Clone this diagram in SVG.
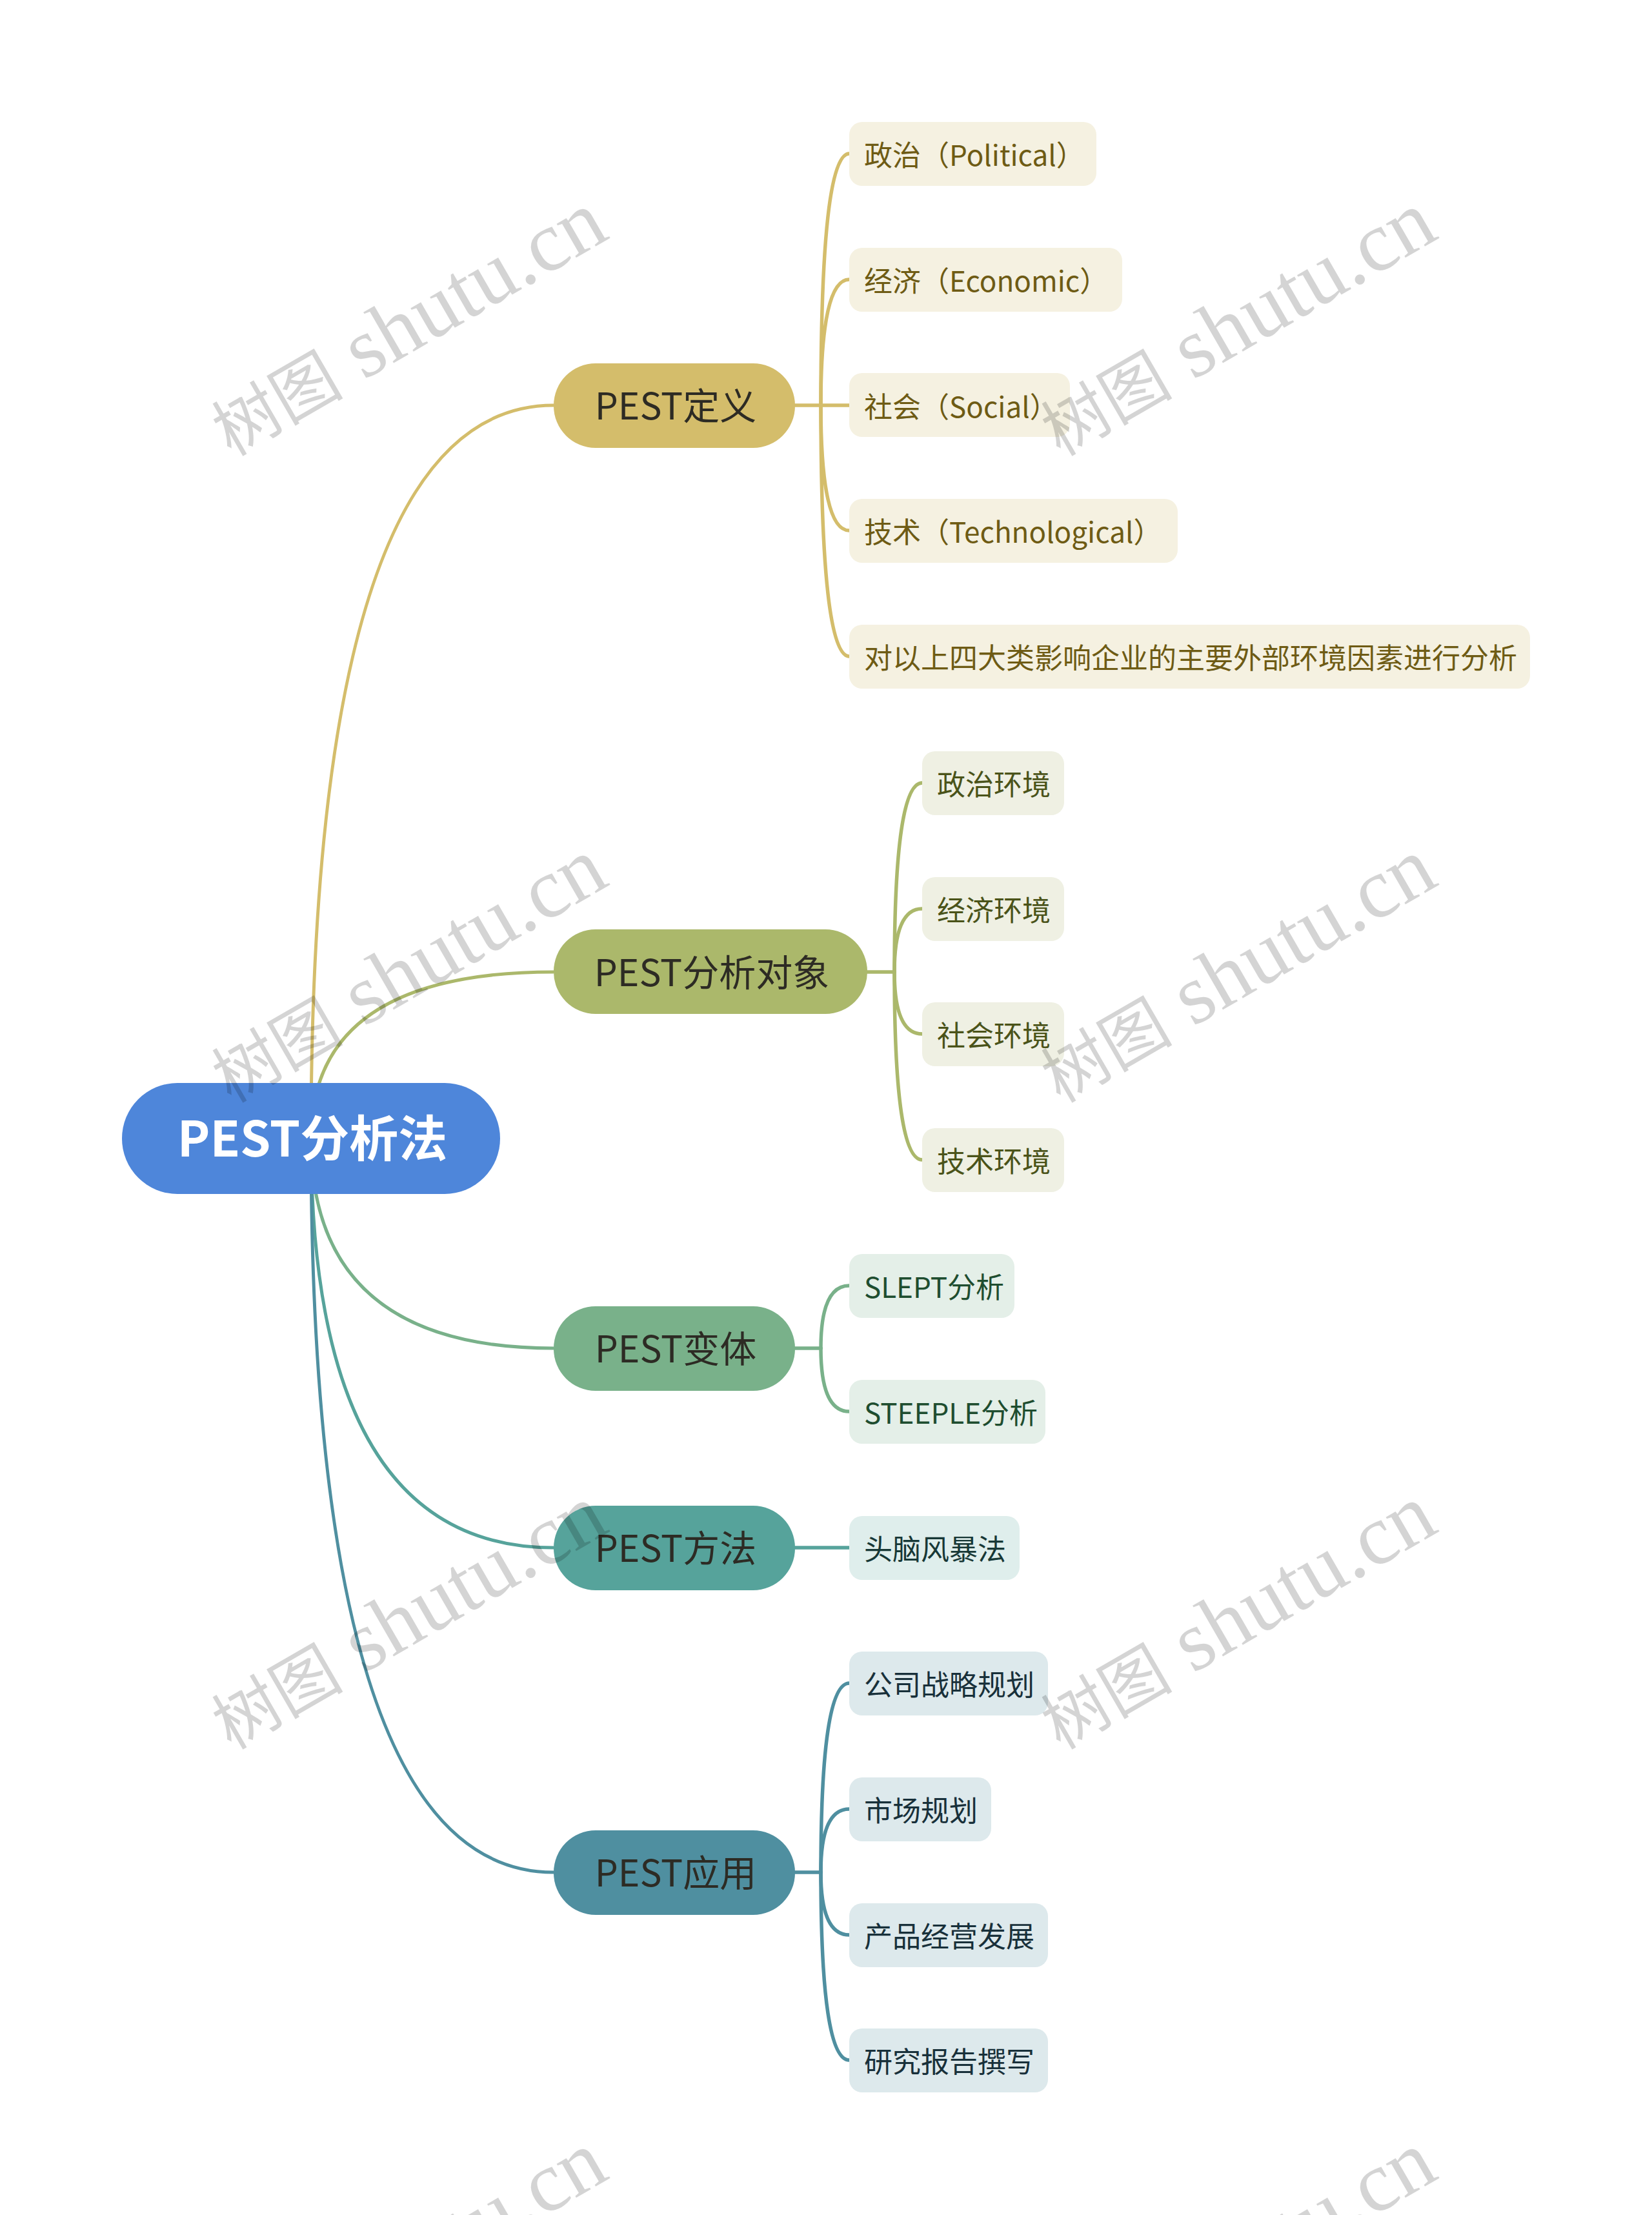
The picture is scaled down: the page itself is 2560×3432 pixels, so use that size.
<svg xmlns="http://www.w3.org/2000/svg" width="2560" height="3432" viewBox="0 0 2560 3432">
<style>
  text { font-family: "Noto Sans CJK SC", "Noto Sans", sans-serif; }
  .root-t { fill: #ffffff; font-size: 76px; font-weight: bold; }
  .l1-t { fill: #2d2b24; font-size: 57px; }
  .l2-t { font-size: 44px; }
  .c { fill: none; stroke-width: 5.5; stroke-linecap: round; }
  .m { fill: none; stroke-width: 5; }
  .gold { stroke: #D4BD6B; } .olive { stroke: #ABB86B; } .green { stroke: #79B18A; } .teal { stroke: #56A39B; } .blue { stroke: #4F8FA0; }
  .b-gold { fill: #F5F1E1; } .t-gold { fill: #6E5B14; }
  .b-olive { fill: #EFF0E3; } .t-olive { fill: #4A5319; }
  .b-green { fill: #E4EFE8; } .t-green { fill: #1E4D2F; }
  .b-teal { fill: #DFEEEC; } .t-teal { fill: #173836; }
  .b-blue { fill: #DDE9EC; } .t-blue { fill: #18303A; }
  .wm { font-family: "Liberation Serif", "Noto Sans CJK SC", serif; font-size: 132px; fill: #000; fill-opacity: 0.17; }
  .wm .cjk { font-size: 102px; }
</style>
<rect width="2560" height="3432" fill="#ffffff"/>

<g id="connectors">
  <path class="m gold" d="M482 1764 Q482 628 858 628"/>
  <path class="m olive" d="M482 1764 Q482 1506 858 1506"/>
  <path class="m green" d="M482 1764 Q482 2089 858 2089"/>
  <path class="m teal" d="M482 1764 Q482 2398 858 2398"/>
  <path class="m blue" d="M482 1764 Q482 2901 858 2901"/>
  <path class="c gold" d="M1232 628 L1272 628"/>
  <path class="c gold" d="M1272 628 Q1272 238 1316 238"/>
  <path class="c gold" d="M1272 628 Q1272 433 1316 433"/>
  <path class="c gold" d="M1272 628 L1316 628"/>
  <path class="c gold" d="M1272 628 Q1272 822 1316 822"/>
  <path class="c gold" d="M1272 628 Q1272 1017 1316 1017"/>
  <path class="c olive" d="M1344 1506 L1386 1506"/>
  <path class="c olive" d="M1386 1506 Q1386 1213 1429 1213"/>
  <path class="c olive" d="M1386 1506 Q1386 1408 1429 1408"/>
  <path class="c olive" d="M1386 1506 Q1386 1602 1429 1602"/>
  <path class="c olive" d="M1386 1506 Q1386 1797 1429 1797"/>
  <path class="c green" d="M1232 2089 L1272 2089"/>
  <path class="c green" d="M1272 2089 Q1272 1992 1316 1992"/>
  <path class="c green" d="M1272 2089 Q1272 2187 1316 2187"/>
  <path class="c teal" d="M1232 2398 L1316 2398"/>
  <path class="c blue" d="M1232 2901 L1272 2901"/>
  <path class="c blue" d="M1272 2901 Q1272 2608 1316 2608"/>
  <path class="c blue" d="M1272 2901 Q1272 2803 1316 2803"/>
  <path class="c blue" d="M1272 2901 Q1272 2998 1316 2998"/>
  <path class="c blue" d="M1272 2901 Q1272 3192 1316 3192"/>
</g>

<g id="root">
  <rect x="189" y="1678" width="586" height="172" rx="86" fill="#4E86DA"/>
  <text class="root-t" x="484" y="1792" text-anchor="middle">PEST分析法</text>
</g>

<g id="n-dingyi">
  <rect x="858" y="563" width="374" height="131" rx="65" fill="#D4BD6B"/>
  <text class="l1-t" x="1047" y="650" text-anchor="middle">PEST定义</text>
</g>
<g id="n-duixiang">
  <rect x="858" y="1440" width="486" height="131" rx="65" fill="#ABB86B"/>
  <text class="l1-t" x="1103" y="1528" text-anchor="middle">PEST分析对象</text>
</g>
<g id="n-bianti">
  <rect x="858" y="2024" width="374" height="131" rx="65" fill="#79B18A"/>
  <text class="l1-t" x="1047" y="2111" text-anchor="middle">PEST变体</text>
</g>
<g id="n-fangfa">
  <rect x="858" y="2333" width="374" height="131" rx="65" fill="#56A39B"/>
  <text class="l1-t" x="1047" y="2420" text-anchor="middle">PEST方法</text>
</g>
<g id="n-yingyong">
  <rect x="858" y="2836" width="374" height="131" rx="65" fill="#4F8FA0"/>
  <text class="l1-t" x="1047" y="2923" text-anchor="middle">PEST应用</text>
</g>

<g id="n-political"><rect class="b-gold" x="1316" y="189" width="383" height="99" rx="20"/><text class="l2-t t-gold" x="1339" y="257">政治（Political）</text></g>
<g id="n-economic"><rect class="b-gold" x="1316" y="384" width="423" height="99" rx="20"/><text class="l2-t t-gold" x="1339" y="452">经济（Economic）</text></g>
<g id="n-social"><rect class="b-gold" x="1316" y="578" width="342" height="99" rx="20"/><text class="l2-t t-gold" x="1339" y="647">社会（Social）</text></g>
<g id="n-tech"><rect class="b-gold" x="1316" y="773" width="509" height="99" rx="20"/><text class="l2-t t-gold" x="1339" y="841">技术（Technological）</text></g>
<g id="n-desc"><rect class="b-gold" x="1316" y="968" width="1055" height="99" rx="20"/><text class="l2-t t-gold" x="1339" y="1036">对以上四大类影响企业的主要外部环境因素进行分析</text></g>

<g id="n-zz"><rect class="b-olive" x="1429" y="1164" width="220" height="99" rx="20"/><text class="l2-t t-olive" x="1452" y="1232">政治环境</text></g>
<g id="n-jj"><rect class="b-olive" x="1429" y="1359" width="220" height="99" rx="20"/><text class="l2-t t-olive" x="1452" y="1427">经济环境</text></g>
<g id="n-sh"><rect class="b-olive" x="1429" y="1553" width="220" height="99" rx="20"/><text class="l2-t t-olive" x="1452" y="1621">社会环境</text></g>
<g id="n-js"><rect class="b-olive" x="1429" y="1748" width="220" height="99" rx="20"/><text class="l2-t t-olive" x="1452" y="1816">技术环境</text></g>

<g id="n-slept"><rect class="b-green" x="1316" y="1943" width="256" height="99" rx="20"/><text class="l2-t t-green" x="1339" y="2011">SLEPT分析</text></g>
<g id="n-steeple"><rect class="b-green" x="1316" y="2138" width="304" height="99" rx="20"/><text class="l2-t t-green" x="1339" y="2206">STEEPLE分析</text></g>

<g id="n-brain"><rect class="b-teal" x="1316" y="2349" width="264" height="99" rx="20"/><text class="l2-t t-teal" x="1339" y="2417">头脑风暴法</text></g>

<g id="n-gs"><rect class="b-blue" x="1316" y="2559" width="308" height="99" rx="20"/><text class="l2-t t-blue" x="1339" y="2627">公司战略规划</text></g>
<g id="n-sc"><rect class="b-blue" x="1316" y="2754" width="220" height="99" rx="20"/><text class="l2-t t-blue" x="1339" y="2822">市场规划</text></g>
<g id="n-cp"><rect class="b-blue" x="1316" y="2949" width="308" height="99" rx="20"/><text class="l2-t t-blue" x="1339" y="3017">产品经营发展</text></g>
<g id="n-yj"><rect class="b-blue" x="1316" y="3143" width="308" height="99" rx="20"/><text class="l2-t t-blue" x="1339" y="3211">研究报告撰写</text></g>

<g id="watermarks">
  <text class="wm" transform="translate(358 708) rotate(-30)"><tspan class="cjk">树图</tspan> shutu.cn</text>
  <text class="wm" transform="translate(1643 708) rotate(-30)"><tspan class="cjk">树图</tspan> shutu.cn</text>
  <text class="wm" transform="translate(358 1710) rotate(-30)"><tspan class="cjk">树图</tspan> shutu.cn</text>
  <text class="wm" transform="translate(1643 1710) rotate(-30)"><tspan class="cjk">树图</tspan> shutu.cn</text>
  <text class="wm" transform="translate(358 2712) rotate(-30)"><tspan class="cjk">树图</tspan> shutu.cn</text>
  <text class="wm" transform="translate(1643 2712) rotate(-30)"><tspan class="cjk">树图</tspan> shutu.cn</text>
  <text class="wm" transform="translate(358 3714) rotate(-30)"><tspan class="cjk">树图</tspan> shutu.cn</text>
  <text class="wm" transform="translate(1643 3714) rotate(-30)"><tspan class="cjk">树图</tspan> shutu.cn</text>
</g>
</svg>
